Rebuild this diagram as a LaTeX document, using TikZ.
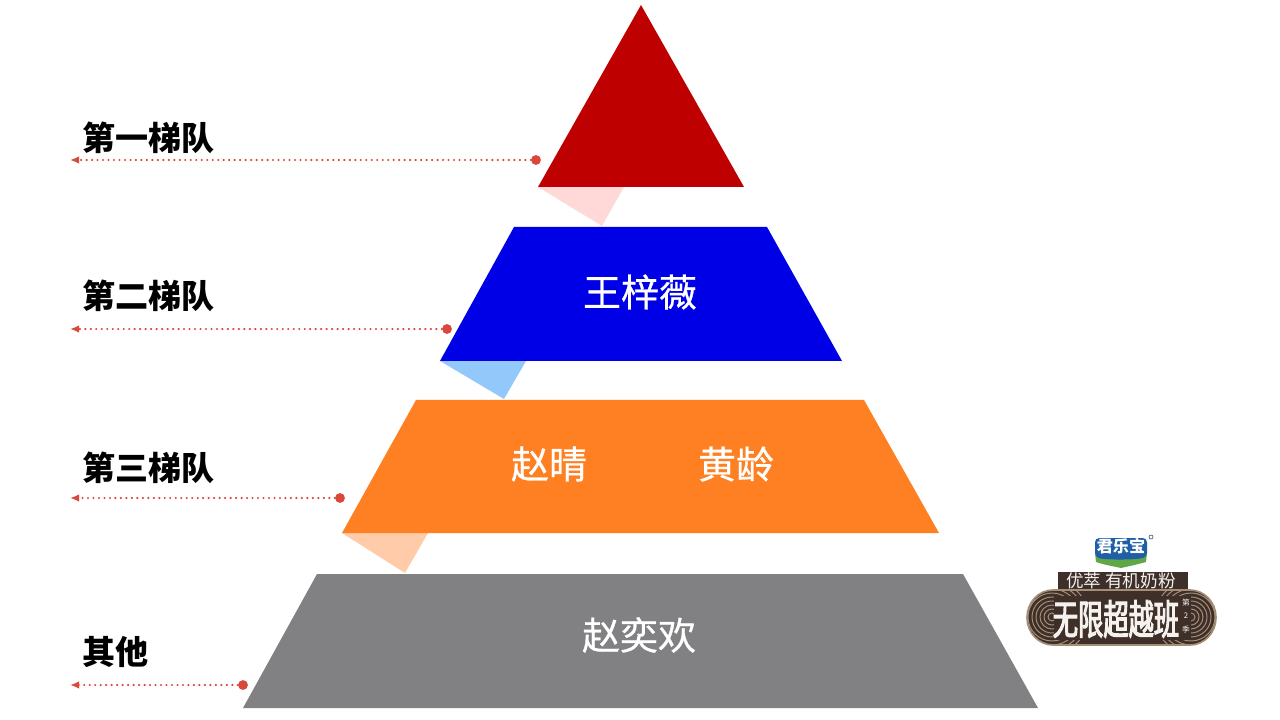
\documentclass[tikz,border=0pt]{standalone}
\usepackage{fontspec}
\setmainfont{Noto Sans CJK SC}
\newfontfamily\namefont[FakeBold=0.7]{Noto Sans CJK SC}
\newfontfamily\showfont[FakeStretch=0.62, FakeBold=2.5]{Noto Sans CJK SC}
\usetikzlibrary{calc, arrows.meta, positioning}
\definecolor{tierred}{HTML}{BE0000}
\definecolor{tierblue}{HTML}{0000E6}
\definecolor{tierorange}{HTML}{FF8022}
\definecolor{tiergray}{HTML}{818082}
\definecolor{foldred}{HTML}{FFD9D7}
\definecolor{foldblue}{HTML}{92C9FA}
\definecolor{foldorange}{HTML}{FFCBA8}
\definecolor{leader}{HTML}{D9483B}
\definecolor{logobrown}{HTML}{3E3029}
\definecolor{logotan}{HTML}{A58E78}
\definecolor{logoblue}{HTML}{1F5FA8}
\definecolor{logogreen}{HTML}{5FA845}
\tikzset{
	tiername/.style={text=white, font=\namefont\fontsize{27}{27}\selectfont, inner sep=0pt},
	tierlabel/.style={text=black, font=\fontsize{23.5}{24}\selectfont\bfseries, inner sep=0pt, anchor=west},
	leaderdot/.style={circle, fill=leader, minimum size=7pt, inner sep=0pt},
	leaderline/.style={-{Latex[length=6.5pt, width=5.5pt]}, draw=leader, line width=1.7pt, line cap=round, dash pattern=on 0pt off 3.9pt},
	showtext/.style={text=white!88!logotan, inner sep=0pt},
}
\begin{document}
\begin{tikzpicture}[x=0.025cm, y=-0.025cm]
	\useasboundingbox (0,0) rectangle (1280,720);

	% folds under the tiers
	\fill[foldred] (538,187) -- (624,187) -- (602,226) -- cycle;
	\fill[foldblue] (440,361) -- (526,361) -- (504,399) -- cycle;
	\fill[foldorange] (342,533) -- (428,533) -- (405,573) -- cycle;

	% tiers
	\fill[tierred] (641,5) -- (744,187) -- (538,187) -- cycle;
	\fill[tierblue] (514,227) -- (767,227) -- (842,361) -- (440,361) -- cycle;
	\fill[tierorange] (416,400) -- (864,400) -- (939,533) -- (342,533) -- cycle;
	\fill[tiergray] (317,574) -- (963,574) -- (1038,708) -- (243,708) -- cycle;

	\node[tiername] (wang) at (640,292) {王梓薇};
	\node[tiername] (zhaoqing) at (549,464) {赵晴};
	\node[tiername] (huang) at (736,464) {黄龄};
	\node[tiername] (zhaoyi) at (639,635) {赵奕欢};

	% labels and leaders
	\node[tierlabel] (first) at (82,138) {第一梯队};
	\node[tierlabel] (second) at (82,296) {第二梯队};
	\node[tierlabel] (third) at (82,468) {第三梯队};
	\node[tierlabel] (other) at (82,652) {其他};

	\node[leaderdot] (dotfirst) at (536,160) {};
	\node[leaderdot] (dotsecond) at (447,329) {};
	\node[leaderdot] (dotthird) at (340,498) {};
	\node[leaderdot] (dotother) at (243,685) {};

	\coordinate (endfirst) at (70,160);
	\coordinate (endsecond) at (70,329);
	\coordinate (endthird) at (70,498);
	\coordinate (endother) at (70,685);

	\draw[leaderline] (dotfirst) -- (endfirst);
	\draw[leaderline] (dotsecond) -- (endsecond);
	\draw[leaderline] (dotthird) -- (endthird);
	\draw[leaderline] (dotother) -- (endother);

	% sponsor mark
	\fill[logobrown] (1058,572) rectangle (1188,596);
	\begin{scope}
		\clip (1053,590) -- (1190,590) arc[start angle=90, end angle=-90, x radius=26, y radius=-27.5] -- (1053,645) arc[start angle=270, end angle=90, x radius=26, y radius=-27.5] -- cycle;
		\fill[logobrown] (1020,585) rectangle (1222,650);
		\foreach \r in {4,8,...,36} {
			\draw[logotan, line width=.7pt] (1052,617) circle[radius=\r];
			\draw[logotan, line width=.7pt] (1191,617) circle[radius=\r];
		}
		\fill[logobrown] (1054,596) rectangle (1191,640);
	\end{scope}
	\draw[logotan, line width=1.2pt] (1053,590) -- (1190,590) arc[start angle=90, end angle=-90, x radius=26, y radius=-27.5] -- (1053,645) arc[start angle=270, end angle=90, x radius=26, y radius=-27.5] -- cycle;
	\fill[logogreen] (1095,553) -- (1147,553) -- (1146,562) .. controls (1135,565) and (1130,566) .. (1121,568) .. controls (1112,566) and (1105,565) .. (1096,562) -- cycle;
	\fill[logoblue, rounded corners=3pt] (1095,538) -- (1147,538) -- (1147,557) .. controls (1135,560) and (1105,560) .. (1095,557) -- cycle;
	\draw[logoblue!70!black, line width=.4pt] (1151,537) circle[radius=2];
	\node[text=white, font=\fontsize{11.5}{12}\selectfont\bfseries, inner sep=0pt] (brand) at (1121,546) {君乐宝};
	\node[showtext, font=\fontsize{12.5}{13}\selectfont, inner sep=0pt] (product) at (1121,581) {优萃 有机奶粉};
	\node[showtext, font=\showfont\fontsize{29}{29}\selectfont, inner sep=0pt] (show) at (1116,619) {无限超越班};
	\node[showtext, font=\fontsize{5.5}{9.5}\selectfont, align=center] (season) at (1186,616) {第\\2\\季};
\end{tikzpicture}
\end{document}
